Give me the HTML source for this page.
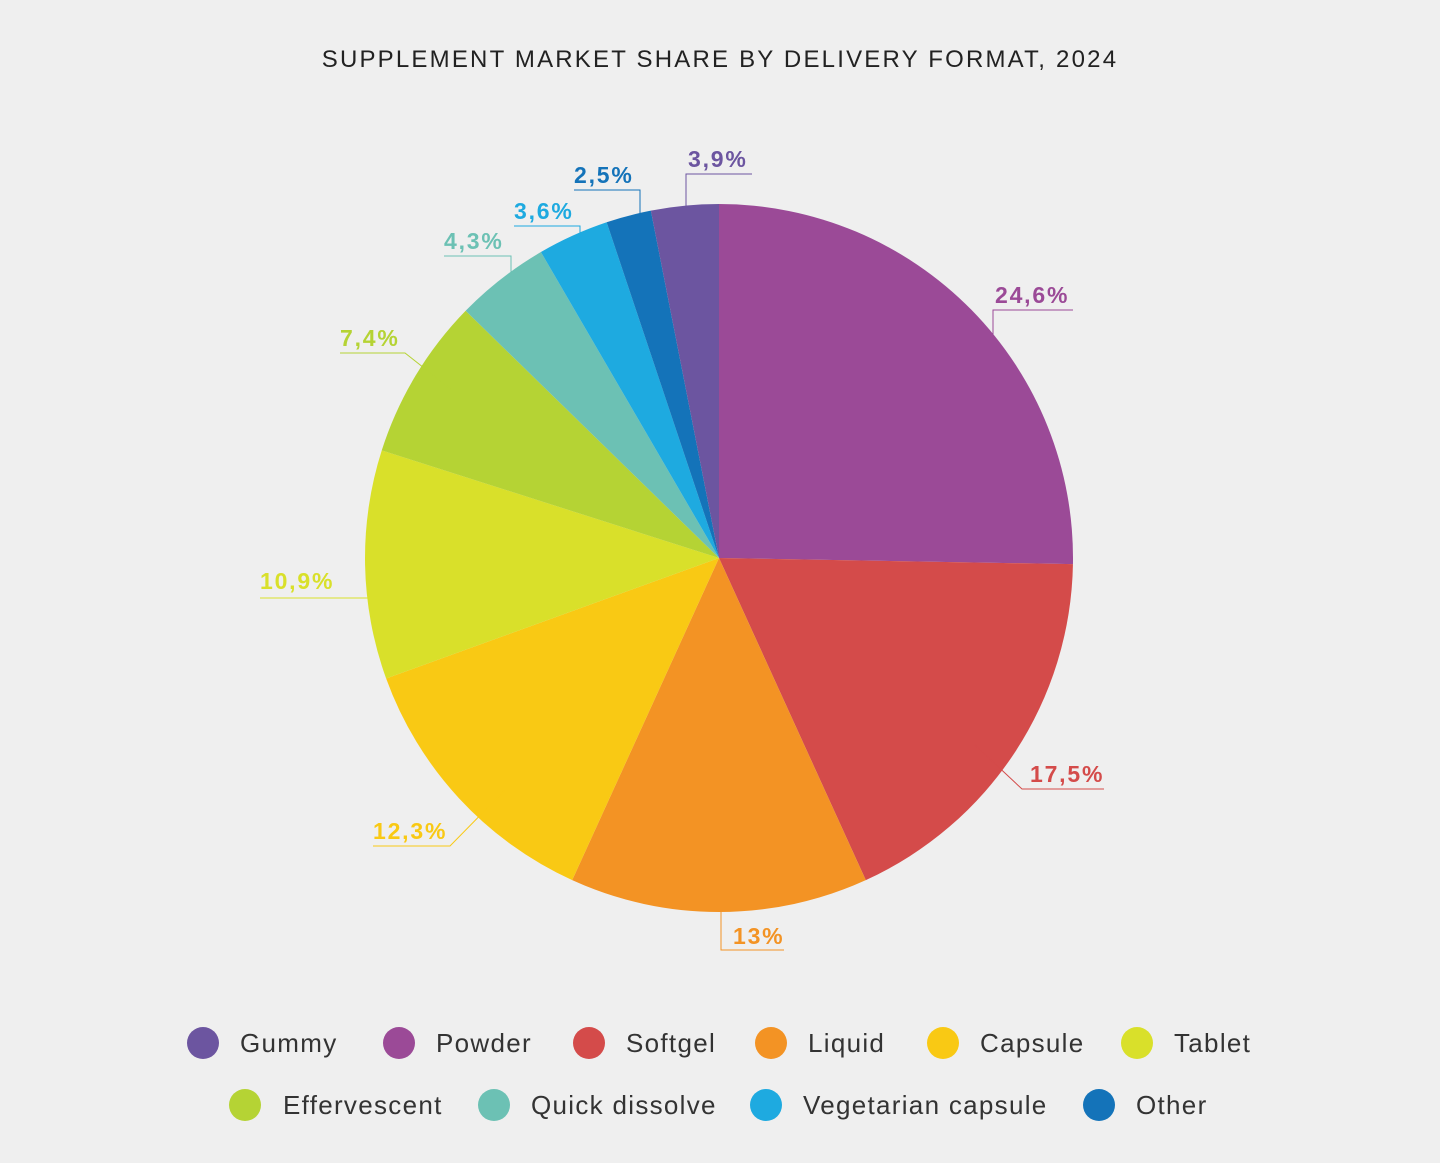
<!DOCTYPE html>
<html><head><meta charset="utf-8"><style>
html,body{margin:0;padding:0;background:#efefef;}
svg{display:block;}
text{font-family:"Liberation Sans",sans-serif;}
.t{font-size:24px;fill:#222;letter-spacing:2.2px;}
.l{font-size:23px;font-weight:bold;letter-spacing:1.8px;}
.g{font-size:26px;fill:#333;letter-spacing:1.3px;}
</style></head><body>
<svg id="s" width="1440" height="1163" viewBox="0 0 1440 1163">
<rect width="1440" height="1163" fill="#efefef"/>
<text class="t" x="720" y="67" text-anchor="middle">SUPPLEMENT MARKET SHARE BY DELIVERY FORMAT, 2024</text>
<g id="pie"></g>
<g fill="none" stroke-width="1">
<path d="M993 405V310H1073" stroke="#9b4a97"/>
<path d="M975 745L1022 789H1104" stroke="#d44b4a"/>
<path d="M721 875V950H784" stroke="#f39324"/>
<path d="M505 790L450 846H373" stroke="#f9c914"/>
<path d="M408 598H260" stroke="#d9e02a"/>
<path d="M452 390L405 353H340" stroke="#b5d334"/>
<path d="M511 323V256H444" stroke="#6cc1b4"/>
<path d="M580 275V226H514" stroke="#1eaae0"/>
<path d="M640 250V190H574" stroke="#1473b9"/>
<path d="M686 245V174H752" stroke="#6c55a0"/>
</g>
<text class="l" x="995" y="303" fill="#9b4a97">24,6%</text>
<text class="l" x="1030" y="782" fill="#d44b4a">17,5%</text>
<text class="l" x="733" y="944" fill="#f39324">13%</text>
<text class="l" x="373" y="839" fill="#f9c914">12,3%</text>
<text class="l" x="260" y="589" fill="#d9e02a">10,9%</text>
<text class="l" x="340" y="346" fill="#b5d334">7,4%</text>
<text class="l" x="444" y="249" fill="#6cc1b4">4,3%</text>
<text class="l" x="514" y="219" fill="#1eaae0">3,6%</text>
<text class="l" x="574" y="183" fill="#1473b9">2,5%</text>
<text class="l" x="688" y="167" fill="#6c55a0">3,9%</text>
<g>
<circle cx="203" cy="1043" r="16" fill="#6c55a0"/><text class="g" x="240" y="1052">Gummy</text>
<circle cx="399" cy="1043" r="16" fill="#9b4a97"/><text class="g" x="436" y="1052">Powder</text>
<circle cx="589" cy="1043" r="16" fill="#d44b4a"/><text class="g" x="626" y="1052">Softgel</text>
<circle cx="771" cy="1043" r="16" fill="#f39324"/><text class="g" x="808" y="1052">Liquid</text>
<circle cx="943" cy="1043" r="16" fill="#f9c914"/><text class="g" x="980" y="1052">Capsule</text>
<circle cx="1137" cy="1043" r="16" fill="#d9e02a"/><text class="g" x="1174" y="1052">Tablet</text>
<circle cx="245" cy="1105" r="16" fill="#b5d334"/><text class="g" x="283" y="1114">Effervescent</text>
<circle cx="494" cy="1105" r="16" fill="#6cc1b4"/><text class="g" x="531" y="1114">Quick dissolve</text>
<circle cx="766" cy="1105" r="16" fill="#1eaae0"/><text class="g" x="803" y="1114">Vegetarian capsule</text>
<circle cx="1099" cy="1105" r="16" fill="#1473b9"/><text class="g" x="1136" y="1114">Other</text>
</g>
</svg>
<script>
var d=[[91,"#9b4a97"],[155.5,"#d44b4a"],[204.5,"#f39324"],[250.1,"#f9c914"],[287.7,"#d9e02a"],[314.3,"#b5d334"],[329.8,"#6cc1b4"],[341.5,"#1eaae0"],[348.9,"#1473b9"],[360,"#6c55a0"]];
var cx=719,cy=558,r=354,a=0,h="";
function p(t){var x=cx+r*Math.sin(t*Math.PI/180),y=cy-r*Math.cos(t*Math.PI/180);return x.toFixed(2)+" "+y.toFixed(2);}
d.forEach(function(s){var b=s[0];h+='<path d="M'+cx+' '+cy+'L'+p(a)+'A'+r+' '+r+' 0 '+(b-a>180?1:0)+' 1 '+p(b)+'Z" fill="'+s[1]+'"/>';a=b;});
document.getElementById("pie").innerHTML=h;
</script>
</body></html>
